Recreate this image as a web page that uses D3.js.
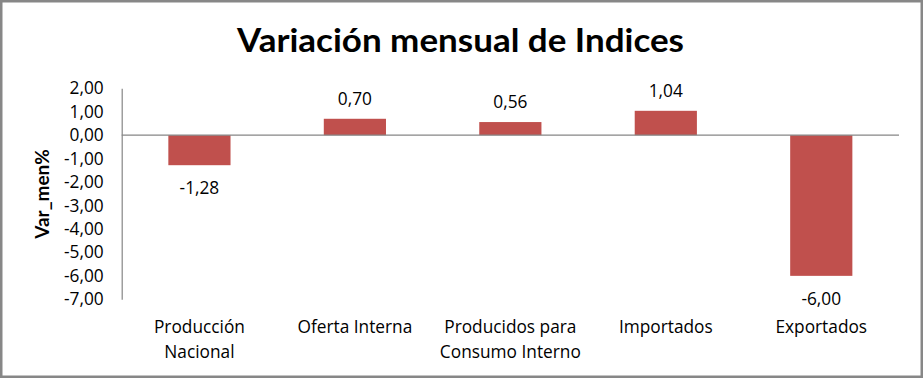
<!DOCTYPE html>
<html><head><meta charset="utf-8">
<script src="https://cdn.jsdelivr.net/npm/d3@7"></script>
<style>html,body{margin:0;padding:0;background:#fff;}svg{display:block;}</style>
</head><body>
<script>
const categories = [["Producción","Nacional"],["Oferta Interna"],["Producidos para","Consumo Interno"],["Importados"],["Exportados"]];
const values = [-1.28, 0.70, 0.56, 1.04, -6.00];
const dataLabels = ["-1,28","0,70","0,56","1,04","-6,00"];
const yTicks = [2,1,0,-1,-2,-3,-4,-5,-6,-7];
const title = "Variación mensual de Indices";
const yTitle = "Var_men%";

const W = 923, H = 378;
const font = "'Open Sans', Lato, sans-serif";
const fs = 17.3;
const svg = d3.select("body").append("svg").attr("width", W).attr("height", H);
svg.append("rect").attr("x",0).attr("y",0).attr("width",W).attr("height",H).attr("fill","#fff");
svg.append("rect").attr("x",1.25).attr("y",1.25).attr("width",W-2.5).attr("height",H-2.5)
  .attr("fill","none").attr("stroke","#878787").attr("stroke-width",2.5);

const x = d3.scaleBand().domain(d3.range(values.length)).range([121.7, 899]).paddingInner(0.6).paddingOuter(0.3);
const y = d3.scaleLinear().domain([-7, 2]).range([299.3, 88.3]);

// title
const t = svg.append("text").attr("x", 460.5).attr("y", 51.7).attr("text-anchor","middle")
  .attr("font-family","Lato, 'Open Sans', sans-serif").attr("font-weight","bold").attr("font-size",32.5)
  .attr("fill","#000").text(title);
t.attr("textLength", 447).attr("lengthAdjust","spacingAndGlyphs");

// bars
svg.append("g").selectAll("rect").data(values).join("rect")
  .attr("x",(d,i)=>x(i)).attr("width",x.bandwidth())
  .attr("y",d=>y(Math.max(0,d))).attr("height",d=>Math.abs(y(d)-y(0)))
  .attr("fill","#C0504D");

// y axis
const ya = svg.append("g").attr("transform","translate(121.7,0)")
  .call(d3.axisLeft(y).tickValues(yTicks).tickSize(0).tickPadding(18)
    .tickFormat(d=>d3.format(".2f")(d).replace(".",",").replace("\u2212","-")));
ya.select(".domain").attr("stroke","#868686").attr("stroke-width",1.2);
ya.selectAll("text").attr("font-family",font).attr("font-size",fs).attr("fill","#000");

// zero axis line
svg.append("line").attr("x1",121.7).attr("x2",899).attr("y1",y(0)).attr("y2",y(0))
  .attr("stroke","#868686").attr("stroke-width",1.2);

// data labels
svg.append("g").selectAll("text").data(values).join("text")
  .attr("x",(d,i)=>x(i)+x.bandwidth()/2)
  .attr("y",d=> d>=0 ? y(d)-14 : y(d)+29)
  .attr("text-anchor","middle").attr("font-family",font).attr("font-size",fs).attr("fill","#000")
  .text((d,i)=>dataLabels[i]);

// category labels
const cg = svg.append("g").selectAll("text").data(categories).join("text")
  .attr("text-anchor","middle").attr("font-family",font).attr("font-size",fs).attr("fill","#000");
cg.each(function(lines,i){
  d3.select(this).selectAll("tspan").data(lines).join("tspan")
    .attr("x", x(i)+x.bandwidth()/2).attr("y",(l,j)=>333.3+j*25).text(l=>l);
});

// y title
svg.append("text").attr("transform","translate(49,194) rotate(-90)").attr("text-anchor","middle")
  .attr("font-family","Lato, 'Open Sans', sans-serif").attr("font-weight","bold").attr("font-size",19)
  .attr("fill","#000").text(yTitle);
</script>
</body></html>
